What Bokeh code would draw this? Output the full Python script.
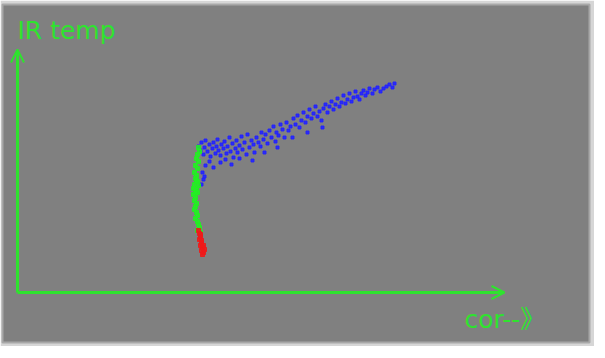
from bokeh.plotting import figure
from bokeh.models import Arrow, OpenHead, Range1d
from bokeh.core.properties import value
from bokeh.embed import file_html
from bokeh.resources import INLINE

# --- data (cor, IR temp) ---
blue_cor = [181,183,184,186,187,188,190,192,193,195,196,198,199,200,
            201,203,204,206,207,209,210,212,213,215,216,218,219,220,
            222,224,225,227,229,230,232,234,236,237,239,241,243,244,
            246,248,250,252,254,256,258,259,261,263,265,267,269,271,273,
            276,278,280,282,284,286,288,290,292,294,296,298,300,302,304,306,308,
            310,312,314,316,318,320,322,324,326,328,330,332,334,336,338,340,342,344,
            346,348,350,352,355,357,360,363,366,369,372,375,377,
            188,192,196,203,208,214,222,235,247,260,275,290,305,
            185,186,184,187]
blue_temp = [146,142,150,138,145,152,141,148,136,144,150,139,146,153,
             142,137,148,144,151,139,146,155,141,149,135,144,152,140,
             147,156,143,150,138,158,145,152,148,140,155,150,146,160,
             153,158,149,162,155,166,151,160,157,168,163,155,170,162,166,
             174,168,177,165,172,180,170,176,183,174,179,186,176,181,172,184,188,
             180,186,191,183,188,194,186,190,197,189,193,199,191,195,201,196,193,199,
             202,197,200,204,199,203,205,201,204,206,208,205,209,
             127,131,125,130,133,128,134,132,140,145,155,160,165,
             120,113,108,116]
green_cor = [181,182,180,179,181,178,180,177,179,178,180,177,179,178,176,178,
             177,179,178,177,179,180,178,180,181,182,180,183,179,181,176,180]
green_temp = [145,141,138,134,131,127,124,120,117,114,111,108,104,101,98,95,
              92,89,86,83,80,77,74,71,68,65,62,60,112,107,104,100]
red_cor = [181,182,183,182,184,183,185,184,186,185,183,184,186,187]
red_temp = [62,59,56,53,50,47,45,42,40,38,58,52,47,43]

x_label = "cor--》"
y_label = "IR temp"

GREEN = "#2ee32e"

p = figure(width=594, height=346, output_backend="svg", toolbar_location=None,
           x_range=Range1d(-15, 572), y_range=Range1d(-50, 288),
           x_axis_type=None, y_axis_type=None,
           min_border_left=2, min_border_top=4, min_border_right=5, min_border_bottom=4)
p.grid.visible = False
p.background_fill_color = "#808080"
p.border_fill_color = "#d6d6d6"
p.outline_line_color = "#a8a8a8"
p.outline_line_width = 2

p.scatter(blue_cor, blue_temp, marker="square", size=3, color="#2222ff", alpha=0.9)
p.scatter(green_cor, green_temp, marker="square", size=4, color="#22ee22", alpha=0.9)
p.scatter(red_cor, red_temp, marker="square", size=4, color="#ee1a1a", alpha=0.9)

p.add_layout(Arrow(end=OpenHead(size=13, line_color=GREEN, line_width=2),
                   x_start=0, y_start=0, x_end=487, y_end=0,
                   line_color=GREEN, line_width=3))
p.add_layout(Arrow(end=OpenHead(size=13, line_color=GREEN, line_width=2),
                   x_start=0, y_start=0, x_end=0, y_end=243,
                   line_color=GREEN, line_width=3))

p.text(x=[0], y=[262], text=[y_label], text_color=GREEN,
       text_font=value("DejaVu Sans"), text_font_size="25px",
       text_baseline="alphabetic", text_align="left")
p.text(x=[447], y=[-27], text=[x_label], text_color=GREEN,
       text_font=value("DejaVu Sans, Noto Sans CJK SC"), text_font_size="25px",
       text_baseline="alphabetic", text_align="left")

open("out.html", "w").write(file_html(p, INLINE))
